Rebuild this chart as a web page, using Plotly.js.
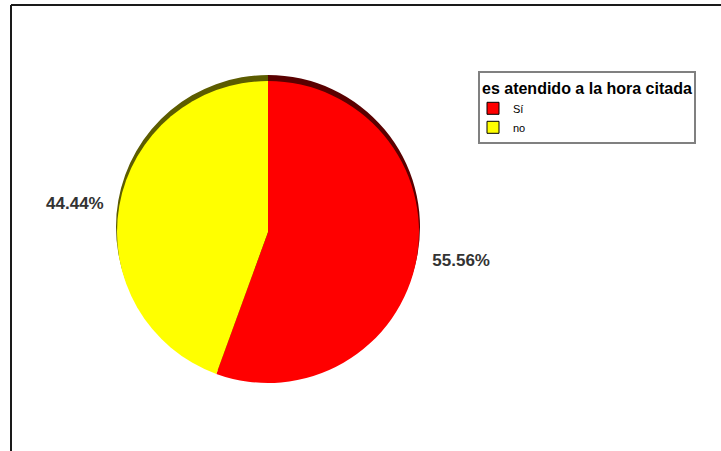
<!DOCTYPE html>
<html>
<head>
<meta charset="utf-8">
<script src="https://cdn.plot.ly/plotly-3.0.1.min.js"></script>
<style>html,body{margin:0;padding:0;background:#fff;}#chart{width:721px;height:451px;}</style>
</head>
<body>
<div id="chart"></div>
<script>
const legendTitle = "es atendido a la hora citada";
const categories = ["Sí", "no"];
const percentages = [55.56, 44.44];
const faceColors = ["#ff0000", "#ffff00"];
const rimColors = ["#5a0000", "#5c5c00"];

const W = 721, H = 451;
function dom(cx, cy, r) {
  return {
    x: [(cx - r) / W, (cx + r) / W],
    y: [(H - cy - r) / H, (H - cy + r) / H]
  };
}
const common = {
  type: "pie",
  labels: categories,
  values: percentages,
  sort: false,
  direction: "clockwise",
  rotation: 0,
  hoverinfo: "skip"
};

// dark rim (3D edge) behind the face
const rim = Object.assign({}, common, {
  marker: { colors: rimColors, line: { width: 0 } },
  textinfo: "none",
  showlegend: false,
  domain: dom(268, 227, 152)
});

// legend carrier, hidden behind the face
const legendPie = Object.assign({}, common, {
  marker: { colors: faceColors, line: { width: 1, color: "#000000" } },
  textinfo: "none",
  showlegend: true,
  domain: dom(268, 232, 40)
});

// visible pie face
const face = Object.assign({}, common, {
  marker: { colors: faceColors, line: { width: 0 } },
  textinfo: "none",
  showlegend: false,
  domain: dom(268, 232, 151)
});

// transparent pie carrying the outside percentage labels
const labelsPie = Object.assign({}, common, {
  marker: { colors: ["rgba(0,0,0,0)", "rgba(0,0,0,0)"], line: { width: 0 } },
  texttemplate: "%{percent:.2%}",
  textposition: "outside",
  outsidetextfont: { family: "Liberation Sans, Arial, sans-serif", size: 17, color: "#333333", weight: "bold" },
  showlegend: false,
  domain: dom(268, 232, 162)
});

const layout = {
  width: W,
  height: H,
  margin: { l: 0, r: 0, t: 0, b: 0 },
  paper_bgcolor: "#ffffff",
  font: { family: "Liberation Sans, Arial, sans-serif", color: "#000000" },
  showlegend: true,
  legend: {
    x: 478 / W,
    y: (H - 71) / H,
    xanchor: "left",
    yanchor: "top",
    bgcolor: "#ffffff",
    bordercolor: "#808080",
    borderwidth: 2,
    itemwidth: 30,
    indentation: -7,
    font: { size: 11, color: "#000000" },
    title: { text: legendTitle, font: { size: 16, weight: "bold", color: "#000000" } },
    tracegroupgap: 0
  },
  shapes: [
    { type: "line", xref: "paper", yref: "paper", x0: 11 / W, x1: 1, y0: (H - 5) / H, y1: (H - 5) / H, line: { color: "#1a1a1a", width: 2 } },
    { type: "line", xref: "paper", yref: "paper", x0: 11 / W, x1: 11 / W, y0: 0, y1: (H - 5) / H, line: { color: "#1a1a1a", width: 2 } }
  ]
};

Plotly.newPlot("chart", [rim, legendPie, face, labelsPie], layout, { displayModeBar: false, staticPlot: true });
</script>
</body>
</html>
